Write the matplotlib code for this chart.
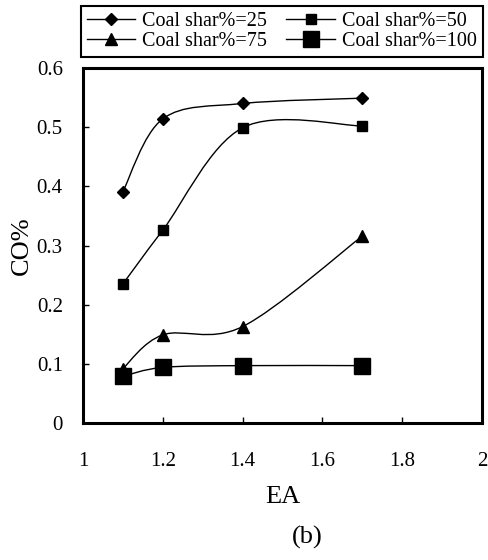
import matplotlib
matplotlib.use('Agg')
import matplotlib.pyplot as plt
from matplotlib.path import Path
from matplotlib.patches import PathPatch
from matplotlib.lines import Line2D
import numpy as np

plt.rcParams['font.family'] = ['Liberation Serif', 'DejaVu Serif']

# data
ea = [1.1, 1.2, 1.4, 1.7]
co_25 = [0.391, 0.514, 0.540, 0.549]
co_50 = [0.235, 0.326, 0.499, 0.502]
co_75 = [0.092, 0.149, 0.163, 0.316]
co_100 = [0.079, 0.094, 0.097, 0.097]
labels = ['Coal shar%=25', 'Coal shar%=50', 'Coal shar%=75', 'Coal shar%=100']


def smooth_path(x, y):
    # Excel-like smoothed line: Catmull-Rom as cubic Bezier segments
    p = np.column_stack([x, y])
    pts = np.vstack([p[0], p, p[-1]])
    verts = [p[0]]
    codes = [Path.MOVETO]
    for i in range(1, len(pts) - 2):
        c1 = pts[i] + (pts[i + 1] - pts[i - 1]) / 6
        c2 = pts[i + 1] - (pts[i + 2] - pts[i]) / 6
        verts += [c1, c2, pts[i + 1]]
        codes += [Path.CURVE4] * 3
    return Path(verts, codes)


fig = plt.figure(figsize=(4.88, 5.6), dpi=100)
ax = fig.add_axes([0.170, 0.2446, 0.818, 0.634])

series = [(co_25, 'D', 6), (co_50, 's', 7), (co_75, '^', 8), (co_100, 's', 11.5)]
handles = []
for (vals, mk, ms), lab in zip(series, labels):
    ax.add_patch(PathPatch(smooth_path(ea, vals), fill=False, lw=1.0, color='black'))
    ax.plot(ea, vals, linestyle='none', marker=mk, ms=ms, color='black', zorder=3)
    handles.append(Line2D([], [], color='black', lw=1.0, marker=mk, ms=ms))

ax.set_xlim(1, 2)
ax.set_ylim(0, 0.6)
ax.set_xticks([1, 1.2, 1.4, 1.6, 1.8, 2])
ax.set_xticklabels(['1', '1.2', '1.4', '1.6', '1.8', '2'])
ax.set_yticks([0, 0.1, 0.2, 0.3, 0.4, 0.5, 0.6])
ax.set_yticklabels(['0', '0.1', '0.2', '0.3', '0.4', '0.5', '0.6'])
ax.tick_params(axis='x', direction='in', length=4, width=1, labelsize=15, pad=21)
ax.tick_params(axis='y', direction='in', length=4, width=1, labelsize=15, pad=14.5)
for s in ax.spines.values():
    s.set_linewidth(2.2)

ax.set_xlabel('EA', fontsize=19, labelpad=11)
ax.set_ylabel('CO%', fontsize=19, labelpad=3)

# legend fills column-wise, so order so rows read 25/50 then 75/100
order = [0, 2, 1, 3]
leg = fig.legend([handles[i] for i in order], [labels[i] for i in order],
                 loc='upper left', bbox_to_anchor=(0.166, 0.99),
                 ncol=2, fontsize=14.5, frameon=True, fancybox=False,
                 edgecolor='black', framealpha=1, handlelength=2.4,
                 handletextpad=0.35, columnspacing=0.95, labelspacing=0.05,
                 borderpad=0.3, borderaxespad=0)
leg.get_frame().set_linewidth(1.5)

fig.text(307 / 488, 1 - 537 / 560, '(b)', fontsize=19, ha='center', va='center')

fig.savefig('out.png', dpi=100)
